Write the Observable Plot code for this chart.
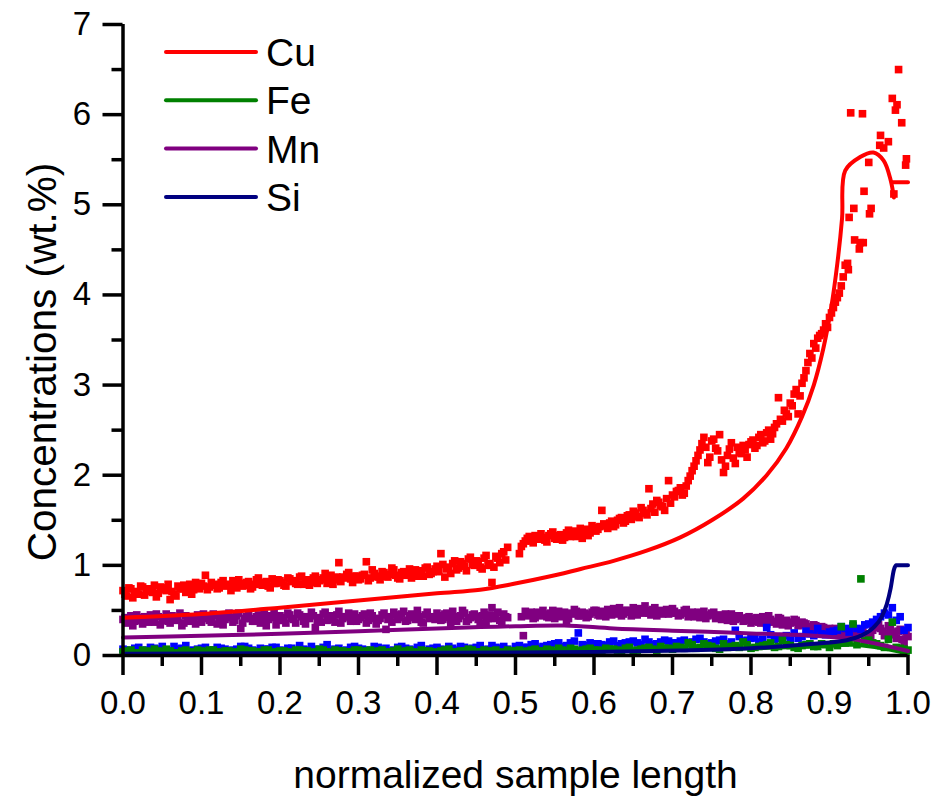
<!DOCTYPE html>
<html><head><meta charset="utf-8">
<script src="https://cdn.jsdelivr.net/npm/d3@7"></script>
<script src="https://cdn.jsdelivr.net/npm/@observablehq/plot@0.6"></script>
<style>
body{margin:0;background:#fff;}
#wrap{position:relative;width:935px;height:801px;overflow:hidden;}
#legend{position:absolute;left:0;top:0;pointer-events:none;}
</style></head><body><div id="wrap"></div>
<script>
// ---- series names / colours ----
const seriesNames = ["Cu", "Fe", "Mn", "Si"];
const lineColors = {Cu: "#ff0000", Fe: "#008000", Mn: "#800080", Si: "#000080"};
const dotColors  = {Cu: "#ff0000", Fe: "#008000", Mn: "#800080", Si: "#0000ff"};

// ---- tick values ----
const xTicks = [0, 0.1, 0.2, 0.3, 0.4, 0.5, 0.6, 0.7, 0.8, 0.9, 1.0];
const xMinor = [0.05, 0.15, 0.25, 0.35, 0.45, 0.55, 0.65, 0.75, 0.85, 0.95];
const yTicks = [0, 1, 2, 3, 4, 5, 6, 7];
const yMinor = [0.5, 1.5, 2.5, 3.5, 4.5, 5.5, 6.5];

// ---- measured points: Cu, two interleaved scans (every 0.005, offset 0.0025) ----
const cuStep = 0.005;
const cuY = [0.72,0.66,0.74,0.70,0.68,0.76,0.71,0.73,0.78,0.69,0.75,0.72,0.62,0.68,0.77,0.74,0.70,0.79,0.73,0.76,0.80,
0.89,0.76,0.78,0.74,0.81,0.77,0.79,0.83,0.75,0.80,0.78,0.82,0.76,0.84,0.79,0.81,0.77,0.85,0.80,0.83,
0.78,0.86,0.82,0.80,0.87,0.79,0.84,0.81,0.88,0.83,0.86,0.80,0.89,0.84,1.03,0.87,0.90,0.85,0.88,0.84,
0.89,1.04,0.86,0.91,0.87,0.93,0.88,0.90,0.95,0.86,0.92,0.89,0.96,0.91,0.88,0.94,0.97,0.90,0.93,0.99,
1.13,0.87,0.98,1.02,0.95,1.04,0.99,1.07,1.01,1.05,0.98,1.08,1.00,0.81,1.10,1.03,1.15,1.20,null,null,
1.13,1.24,1.30,1.27,1.33,1.29,1.31,1.26,1.35,1.30,1.33,1.28,1.36,1.32,1.38,1.34,1.30,1.40,1.36,1.42,
1.40,1.61,1.44,1.47,1.43,1.50,1.53,1.49,1.56,1.60,1.54,1.64,1.58,1.85,1.68,1.72,1.66,1.61,1.94,1.78,
1.82,1.86,1.80,1.94,2.05,2.16,2.28,2.42,2.14,2.38,2.30,2.45,2.03,2.22,2.36,2.13,2.25,2.33,2.20,2.37,
2.30,2.42,2.36,2.47,2.40,2.53,2.86,2.60,2.68,2.80,2.90,2.68,3.02,3.16,3.35,3.46,3.52,3.57,3.68,3.75,3.86,3.97,4.10,4.33];
const cuY2 = [0.68,0.75,0.64,0.71,0.77,0.67,0.74,0.70,0.65,0.76,0.73,0.79,0.71,0.66,0.74,0.78,0.72,0.68,0.81,0.74,
0.77,0.73,0.81,0.79,0.75,0.83,0.78,0.72,0.80,0.84,0.77,0.81,0.74,0.79,0.86,0.78,0.82,0.75,0.80,0.84,
0.81,0.77,0.85,0.83,0.79,0.88,0.82,0.78,0.86,0.80,0.84,0.91,0.83,0.79,0.87,0.82,0.86,0.92,0.81,0.88,
0.85,0.90,0.83,0.95,0.88,0.84,0.92,0.87,0.97,0.89,0.85,0.93,0.90,0.86,0.95,0.92,0.88,0.98,0.91,0.96,
0.93,1.01,0.96,0.91,1.05,0.97,1.02,0.94,1.09,1.00,1.04,0.96,1.11,1.02,0.98,1.08,1.13,1.06,null,null,
null,1.21,1.27,1.32,1.25,1.30,1.35,1.28,1.33,1.37,1.29,1.34,1.31,1.39,1.35,1.32,1.41,1.37,1.33,1.44,
1.38,1.43,1.46,1.41,1.49,1.45,1.52,1.47,1.55,1.51,1.58,1.53,1.61,1.56,1.63,1.59,1.70,1.65,1.74,1.69,
1.76,1.83,1.78,1.88,1.99,2.10,2.22,2.35,2.31,2.20,2.40,2.27,2.17,2.10,2.29,2.19,2.31,2.24,2.28,2.34,
2.39,2.33,2.45,2.38,2.50,2.46,2.57,2.62,2.72,2.65,2.77,2.95,2.88,3.08,3.25,3.30,3.41,3.55,3.61,3.64,3.80,3.92,4.02,4.20];
const cuTailX = [0.927,0.942,0.988,0.980,0.986,0.984,0.992,0.965,0.975,0.964,0.969,0.950,0.998,0.997,0.944,0.931,0.953,0.925,0.951,0.932,0.939,0.938,0.943,0.923,0.924,0.982];
const cuTailY = [6.02,6.01,6.50,6.18,6.11,6.05,5.91,5.77,5.70,5.66,5.63,5.47,5.51,5.44,5.15,4.96,4.96,4.86,4.90,4.61,4.58,4.51,4.58,4.35,4.28,5.12];

// ---- Mn points ----
const mnStep = 0.005;
const mnY = [0.40,0.36,0.44,0.38,0.42,0.35,0.41,0.45,0.37,0.43,0.39,0.46,0.36,0.42,0.40,0.33,0.44,0.38,0.41,0.45,0.37,
0.43,0.39,0.46,0.35,0.42,0.40,0.47,0.37,0.44,0.30,0.41,0.45,0.38,0.43,0.36,0.46,0.40,0.42,0.34,0.44,
0.39,0.47,0.41,0.36,0.45,0.38,0.43,0.48,0.31,0.42,0.46,0.39,0.44,0.37,0.49,0.41,0.43,0.38,0.46,0.40,
0.44,0.36,0.47,0.41,0.39,0.45,0.29,0.43,0.48,0.40,0.46,0.38,0.44,0.42,0.50,0.37,0.45,0.41,0.43,0.47,
0.39,0.46,0.42,0.49,0.38,0.44,0.47,0.40,0.45,0.43,0.36,0.48,0.41,0.53,0.44,0.39,0.46,0.42,null,null,
null,0.22,0.44,0.48,0.42,0.46,0.50,0.43,0.47,0.41,0.49,0.45,0.39,0.47,0.51,0.44,0.48,0.42,0.46,0.50,
0.45,0.49,0.43,0.47,0.52,0.46,0.44,0.50,0.48,0.53,0.45,0.49,0.55,0.47,0.51,0.44,0.50,0.48,0.46,0.52,
0.47,0.45,0.50,0.43,0.48,0.46,0.42,0.49,0.44,0.47,0.41,0.45,0.43,0.39,0.46,0.40,0.44,0.38,0.42,0.36,
0.41,0.37,0.43,0.35,0.40,0.38,0.42,0.34,0.39,0.36,0.40,0.33,0.37,0.35,0.31,0.34,0.29,0.32,0.27,0.30,
0.28,0.25,0.29,0.26,0.24,0.27,0.23,0.25,0.22,0.24,0.28,0.36,0.30,0.22,0.33,0.26,0.19,0.29,0.14,0.21];
const mnY2 = [0.42,0.38,0.33,0.45,0.39,0.43,0.37,0.40,0.46,0.34,0.41,0.38,0.44,0.39,0.47,0.36,0.42,0.40,0.35,0.43,
0.46,0.41,0.37,0.44,0.40,0.34,0.45,0.42,0.39,0.47,0.36,0.43,0.41,0.38,0.45,0.40,0.33,0.44,0.47,0.39,
0.42,0.36,0.45,0.40,0.47,0.43,0.35,0.41,0.44,0.39,0.37,0.48,0.42,0.40,0.45,0.36,0.43,0.47,0.41,0.38,
0.42,0.46,0.39,0.44,0.35,0.41,0.47,0.40,0.37,0.45,0.42,0.49,0.39,0.46,0.40,0.43,0.36,0.48,0.42,0.40,
0.44,0.40,0.47,0.36,0.43,0.41,0.50,0.38,0.42,0.46,0.40,0.44,0.37,0.45,0.41,0.48,0.35,0.43,null,null,
null,0.43,0.49,0.45,0.41,0.48,0.44,0.46,0.42,0.50,0.45,0.43,0.48,0.41,0.46,0.49,0.44,0.47,0.43,0.48,
0.50,0.44,0.47,0.51,0.45,0.49,0.53,0.46,0.50,0.44,0.48,0.52,0.47,0.50,0.45,0.53,0.49,0.46,0.51,0.47,
0.49,0.44,0.47,0.51,0.45,0.43,0.48,0.46,0.41,0.45,0.48,0.43,0.40,0.46,0.42,0.38,0.44,0.41,0.39,0.43,
0.38,0.42,0.36,0.40,0.44,0.37,0.35,0.41,0.38,0.33,0.37,0.39,0.34,0.36,0.32,0.30,0.33,0.28,0.31,0.29,
0.26,0.30,0.27,0.24,0.28,0.25,0.22,0.26,0.29,0.23,0.21,0.31,0.34,0.27,0.25,0.30,0.23,0.27,0.18,0.26];

// ---- Si points (blue) ----
const siStep = 0.01;
const siY = [0.07,0.05,0.09,0.06,0.08,0.10,0.05,0.07,0.11,0.06,0.08,
0.05,0.09,0.07,0.06,0.10,0.08,0.05,0.07,0.09,0.06,
0.08,0.05,0.07,0.10,0.06,0.12,0.07,0.05,0.09,0.08,
0.06,0.10,0.07,0.05,0.09,0.08,0.06,0.11,0.07,0.09,
0.06,0.08,0.10,0.07,0.09,0.06,0.11,0.08,0.07,0.10,
0.09,0.12,0.08,0.11,0.13,0.10,0.14,0.25,0.11,0.13,
0.12,0.15,0.11,0.14,0.16,0.12,0.15,0.13,0.17,0.14,
0.16,0.13,0.18,0.15,0.14,0.17,0.13,0.28,0.16,0.19,
0.15,0.31,0.18,0.21,0.17,0.19,0.27,0.22,0.24,0.26,
0.28,0.30,0.33,0.29,0.35,0.40,0.47,0.53,0.43,0.31];
const siY2 = [0.06,0.08,0.05,0.09,0.07,0.06,0.10,0.08,0.05,0.07,
0.09,0.06,0.08,0.05,0.07,0.10,0.06,0.08,0.07,0.09,
0.05,0.08,0.11,0.06,0.07,0.09,0.05,0.08,0.06,0.10,
0.07,0.05,0.09,0.08,0.06,0.10,0.07,0.09,0.05,0.08,
0.07,0.10,0.06,0.09,0.08,0.11,0.07,0.09,0.10,null,
0.11,0.09,0.13,0.10,0.12,0.14,0.11,0.16,0.12,0.14,
0.13,0.11,0.16,0.13,0.15,0.14,0.18,0.12,0.15,0.16,
0.14,0.17,0.15,0.19,0.13,0.16,0.18,0.15,0.21,0.17,
0.20,0.18,0.23,0.19,0.22,0.25,0.21,0.24,0.30,0.23,
0.27,0.32,0.26,0.30,0.34,0.37,0.43,0.45,0.39,0.28];

// ---- Fe points (green) ----
const feStep = 0.01;
const feY = [0.04,0.06,0.03,0.05,0.07,0.04,0.05,0.03,0.06,0.04,0.05,
0.06,0.04,0.05,0.03,0.07,0.05,0.04,0.06,0.03,0.05,
0.04,0.06,0.05,0.03,0.07,0.04,0.06,0.05,0.04,0.06,
0.05,0.03,0.06,0.04,0.07,0.05,0.04,0.06,0.05,0.03,
0.06,0.04,0.05,0.07,0.04,0.06,0.05,0.03,0.06,0.05,
0.04,0.06,0.05,0.07,0.04,0.06,0.08,0.05,0.07,0.06,
0.05,0.07,0.06,0.08,0.05,0.07,0.09,0.06,0.08,0.07,
0.09,0.14,0.08,0.13,0.10,0.07,0.09,0.11,0.15,0.08,
0.10,0.12,0.09,0.17,0.11,0.08,0.12,0.10,0.13,0.09,
0.11,0.14,0.35,0.85,0.17,0.13,0.09,0.37,0.08,0.06];
const feY2 = [0.05,0.03,0.06,0.04,0.05,0.07,0.03,0.05,0.04,0.06,
0.04,0.06,0.03,0.05,0.04,0.06,0.05,0.03,0.06,0.04,
0.05,0.03,0.06,0.05,0.04,0.06,0.03,0.05,0.04,0.06,
0.04,0.06,0.05,0.03,0.05,0.04,0.06,0.03,0.05,0.04,
0.05,0.07,0.04,0.05,0.06,0.04,0.05,0.06,0.04,0.05,
0.06,0.05,0.07,0.05,0.06,0.08,0.05,0.07,0.06,0.08,
0.06,0.08,0.07,0.05,0.09,0.06,0.08,0.07,0.10,0.08,
0.10,0.08,0.12,0.09,0.11,0.08,0.13,0.10,0.09,0.12,
0.09,0.11,0.14,0.10,0.12,0.09,0.11,0.13,0.10,0.12,
0.13,0.32,0.15,0.12,0.16,0.14,0.11,0.18,0.09,0.07];

// ---- fitted (model) curves ----
const cuFitX = [0,0.1,0.2,0.3,0.4,0.455,0.498,0.540,0.583,0.625,0.668,0.710,0.750,0.790,0.820,0.845,0.865,0.880,0.892,0.902,0.910,0.916,0.920,0.939,0.956,0.969,0.978,0.982];
const cuFitY = [0.42,0.46,0.53,0.61,0.69,0.73,0.795,0.87,0.96,1.05,1.165,1.31,1.50,1.74,2.00,2.30,2.65,3.00,3.40,3.85,4.35,4.85,5.38,5.53,5.58,5.49,5.27,5.08];
const cuEndX = [0.980, 1.0];
const cuEndY = [5.25, 5.25];
const feFitX = [0,0.2,0.4,0.6,0.7,0.8,0.88,0.93,0.96,1.0];
const feFitY = [0.03,0.035,0.04,0.05,0.06,0.08,0.10,0.12,0.09,0.02];
const mnFitX = [0,0.1,0.2,0.3,0.4,0.455,0.5,0.562,0.625,0.7,0.753,0.8,0.88,0.93,0.96,1.0];
const mnFitY = [0.20,0.22,0.24,0.27,0.30,0.315,0.325,0.333,0.30,0.275,0.26,0.245,0.22,0.18,0.13,0.05];
const siFitX = [0,0.2,0.4,0.6,0.71,0.8,0.88,0.922,0.94,0.956,0.966,0.973,0.978,0.982,0.985,1.0];
const siFitY = [0.02,0.025,0.03,0.04,0.055,0.08,0.13,0.17,0.22,0.31,0.42,0.57,0.75,0.95,1.0,1.0];

// ---- build tables ----
const grid = (ys, step, off = 0) => ys.map((y, i) => ({x: off + i * step, y})).filter(d => d.y != null);
const pairs = (xs, ys) => xs.map((x, i) => ({x, y: ys[i]}));
const cuPts = grid(cuY, cuStep).concat(grid(cuY2, cuStep, cuStep / 2), pairs(cuTailX, cuTailY));
const mnPts = grid(mnY, mnStep).concat(grid(mnY2, mnStep, mnStep / 2));
const siPts = grid(siY, siStep).concat(grid(siY2, siStep, siStep / 2));
const fePts = grid(feY, feStep).concat(grid(feY2, feStep, feStep / 2));

const FONT = "'Liberation Sans', Arial, Helvetica, sans-serif";
const W = 935, H = 801;
const R = 4.3;

const chart = Plot.plot({
  width: W, height: H,
  marginLeft: 122.5, marginRight: 27.5, marginTop: 24, marginBottom: 146,
  style: {fontFamily: FONT, background: "white", color: "black", overflow: "visible"},
  x: {domain: [0, 1]},
  y: {domain: [0, 7]},
  marks: [
    Plot.dot(cuPts, {x: "x", y: "y", symbol: "square", r: R, fill: dotColors.Cu, stroke: "none"}),
    Plot.dot(mnPts, {x: "x", y: "y", symbol: "square", r: R, fill: dotColors.Mn, stroke: "none"}),
    Plot.dot(siPts, {x: "x", y: "y", symbol: "square", r: R, fill: dotColors.Si, stroke: "none"}),
    Plot.dot(fePts, {x: "x", y: "y", symbol: "square", r: R, fill: dotColors.Fe, stroke: "none"}),
    Plot.line(pairs(cuFitX, cuFitY), {x: "x", y: "y", stroke: lineColors.Cu, strokeWidth: 4, curve: "catmull-rom"}),
    Plot.line(pairs(cuEndX, cuEndY), {x: "x", y: "y", stroke: lineColors.Cu, strokeWidth: 4}),
    Plot.line(pairs(feFitX, feFitY), {x: "x", y: "y", stroke: lineColors.Fe, strokeWidth: 4, curve: "catmull-rom"}),
    Plot.line(pairs(mnFitX, mnFitY), {x: "x", y: "y", stroke: lineColors.Mn, strokeWidth: 4, curve: "catmull-rom"}),
    Plot.line(pairs(siFitX, siFitY), {x: "x", y: "y", stroke: lineColors.Si, strokeWidth: 4, curve: "monotone-x"}),
    Plot.axisX({ticks: xTicks, tickSize: 20, tickPadding: 15, fontSize: 33, strokeWidth: 3.5, tickFormat: d3.format(".1f"), label: null}),
    Plot.axisX({ticks: xMinor, tickSize: 11, strokeWidth: 3.5, tickFormat: () => "", label: null}),
    Plot.axisY({ticks: yTicks, tickSize: 20, tickPadding: 12, fontSize: 33, strokeWidth: 3.5, tickFormat: d3.format("d"), label: null}),
    Plot.axisY({ticks: yMinor, tickSize: 11, strokeWidth: 3.5, tickFormat: () => "", label: null}),
    Plot.ruleX([0], {strokeWidth: 3.5}),
    Plot.ruleY([0], {strokeWidth: 3.5}),
    Plot.text(["Concentrations (wt.%)"], {frameAnchor: "left", rotate: -90, dx: -80, dy: 22, fontSize: 40.5, textAnchor: "middle", lineAnchor: "middle"}),
    Plot.text(["normalized sample length"], {frameAnchor: "bottom", dy: 120, fontSize: 39, textAnchor: "middle", lineAnchor: "middle"})
  ]
});

const wrap = document.getElementById("wrap");
wrap.appendChild(chart);

// ---- legend (inside plot, top-left) ----
const NS = "http://www.w3.org/2000/svg";
const leg = document.createElementNS(NS, "svg");
leg.setAttribute("id", "legend");
leg.setAttribute("width", 400);
leg.setAttribute("height", 240);
seriesNames.forEach((name, i) => {
  const cy = 52 + i * 48.3;
  const ln = document.createElementNS(NS, "line");
  ln.setAttribute("x1", 166); ln.setAttribute("x2", 256);
  ln.setAttribute("y1", cy); ln.setAttribute("y2", cy);
  ln.setAttribute("stroke", lineColors[name]);
  ln.setAttribute("stroke-width", 4);
  ln.setAttribute("stroke-linecap", "round");
  leg.appendChild(ln);
  const tx = document.createElementNS(NS, "text");
  tx.setAttribute("x", 266); tx.setAttribute("y", cy);
  tx.setAttribute("dy", "0.36em");
  tx.setAttribute("font-family", FONT);
  tx.setAttribute("font-size", 39);
  tx.setAttribute("fill", "black");
  tx.textContent = name;
  leg.appendChild(tx);
});
wrap.appendChild(leg);
</script></body></html>
